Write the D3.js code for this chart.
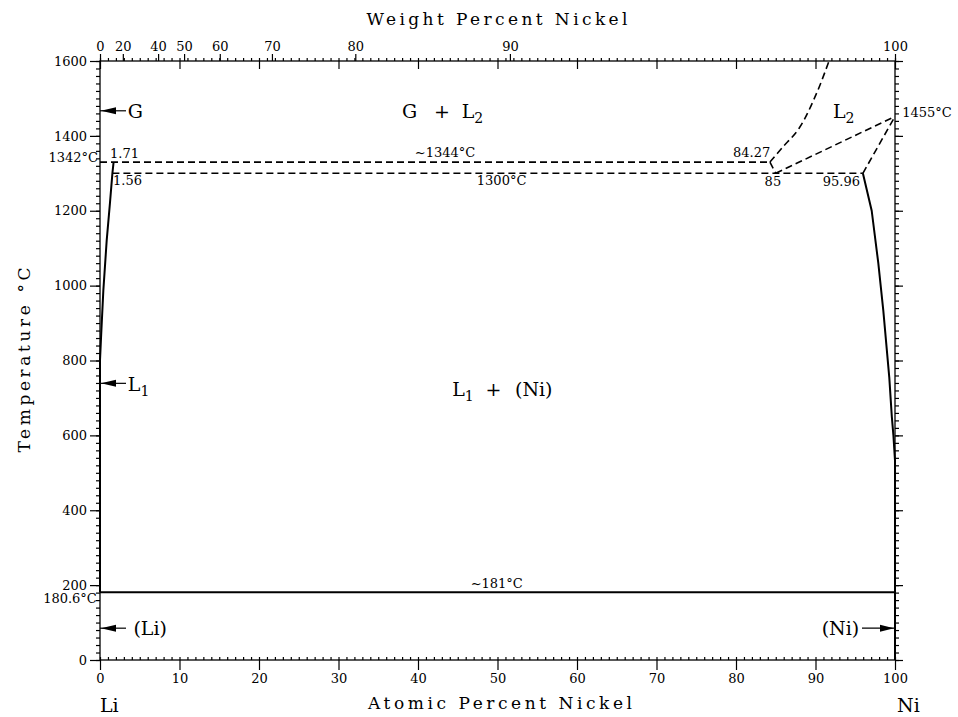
<!DOCTYPE html>
<html>
<head>
<meta charset="utf-8">
<script src="https://d3js.org/d3.v7.min.js"></script>
<style>
  body { margin: 0; background: #fff; }
  svg { font-family: "DejaVu Serif", serif; }
  .tick text { font-family: "DejaVu Serif", serif; font-size: 13px; fill: #000; }
  .tick line { stroke: #000; stroke-width: 1.2; }
</style>
</head>
<body>
<script>
// Li-Ni phase diagram: atomic % Ni on x, temperature in degC on y

var atTicks = d3.range(0, 101, 10);
var tempTicks = d3.range(0, 1601, 200);
var wtTicks = [0, 20, 40, 50, 60, 70, 80, 90, 100];

// solid boundaries [at% Ni, degC]
var leftLiquidus = [[1.71, 1330], [1.56, 1300], [1.25, 1220], [0.84, 1120], [0.42, 987], [0.13, 861], [0, 800], [0, 181]];
var rightLiquidus = [[95.96, 1300], [97.07, 1200], [97.9, 1060], [98.53, 933], [99.28, 755], [99.6, 650], [99.8, 600], [100, 533], [100, 0]];
var eutecticLine = [[0, 181], [100, 181]];

// dashed (uncertain) boundaries
var monotecticLine = [[0, 1330], [84.27, 1330]];
var peritecticLine = [[1.56, 1300], [95.96, 1300]];
var monoJoin = [[84.27, 1330], [85, 1300]];
var liquidusL2a = [[85, 1300], [100, 1452]];
var liquidusL2b = [[95.96, 1300], [100, 1452]];
var gasL2 = [[84.27, 1330], [85.8, 1368], [87.96, 1421], [90.1, 1512], [91.7, 1600]];

// small value labels: [text, at%, degC, anchor]
var valueLabels = [
  ["1.71", 1.26, 1341, "start"],
  ["1.56", 1.64, 1269, "start"],
  ["~1344°C", 39.6, 1343, "start"],
  ["1300°C", 47.4, 1269, "start"],
  ["84.27", 84.3, 1343, "end"],
  ["85", 83.6, 1266, "start"],
  ["95.96", 95.6, 1266, "end"],
  ["1455°C", 100.9, 1450, "start"],
  ["1342°C", -0.25, 1329, "end"],
  ["180.6°C", -0.4, 152, "end"],
  ["~181°C", 49.9, 192, "middle"]
];

// phase labels: [text, subscript, at%, degC, anchor]
var phaseLabels = [
  ["G", "", 3.5, 1448, "start"],
  ["L", "1", 3.5, 718, "start"],
  ["(Li)", "", 4.2, 67, "start"],
  ["(Ni)", "", 95.5, 67, "end"],
  ["G", "", 38.0, 1448, "start"],
  ["+", "", 42.0, 1448, "start"],
  ["L", "2", 45.5, 1448, "start"],
  ["L", "2", 92.2, 1448, "start"],
  ["L", "1", 44.3, 705, "start"],
  ["+", "", 48.5, 705, "start"],
  ["(Ni)", "", 52.2, 705, "start"]
];

// arrows to the pure-element axes: [degC, side]
var arrows = [[1467, "left"], [739, "left"], [85, "left"], [85, "right"]];

function wtToAt(w) {
  var a = w / 58.69, b = (100 - w) / 6.941;
  return 100 * a / (a + b);
}

var W = 958, H = 717;
var svg = d3.select("body").append("svg").attr("width", W).attr("height", H);

var x = d3.scaleLinear().domain([0, 100]).range([100, 895]);
var y = d3.scaleLinear().domain([0, 1600]).range([660, 61]);

// axes
function clean(g) { g.select(".domain").remove(); }

svg.append("g").attr("transform", "translate(0,660)")
  .call(d3.axisBottom(x).tickValues(atTicks).tickSize(10).tickPadding(4).tickFormat(d3.format("d"))).call(clean);
svg.append("g").attr("transform", "translate(0,660)")
  .call(d3.axisBottom(x).tickValues(d3.range(0, 101, 1)).tickSize(-3).tickFormat("")).call(clean);

svg.append("g").attr("transform", "translate(100,0)")
  .call(d3.axisLeft(y).tickValues(tempTicks).tickSize(10).tickPadding(3).tickFormat(d3.format("d"))).call(clean);
svg.append("g").attr("transform", "translate(100,0)")
  .call(d3.axisLeft(y).tickValues(d3.range(0, 1601, 20)).tickSize(4).tickFormat("")).call(clean);

svg.append("g").attr("transform", "translate(895,0)")
  .call(d3.axisRight(y).tickValues(tempTicks).tickSize(8).tickFormat("")).call(clean);
svg.append("g").attr("transform", "translate(895,0)")
  .call(d3.axisRight(y).tickValues(d3.range(0, 1601, 20)).tickSize(4).tickFormat("")).call(clean);

svg.append("g").attr("transform", "translate(0,61)")
  .call(d3.axisTop(x).tickValues(wtTicks.map(wtToAt)).tickSize(7).tickPadding(3)
    .tickFormat(function (d, i) { return wtTicks[i]; })).call(clean);
svg.append("g").attr("transform", "translate(0,61)")
  .call(d3.axisTop(x).tickValues(atTicks).tickSize(-8).tickFormat("")).call(clean);
svg.append("g").attr("transform", "translate(0,61)")
  .call(d3.axisTop(x).tickValues(d3.range(0, 101, 1)).tickSize(3).tickFormat("")).call(clean);

svg.append("rect")
  .attr("x", x(0)).attr("y", y(1600))
  .attr("width", x(100) - x(0)).attr("height", y(0) - y(1600))
  .attr("fill", "none").attr("stroke", "#000").attr("stroke-width", 1.3);

// axis titles
svg.append("text").attr("x", 497).attr("y", 25).attr("text-anchor", "middle")
  .attr("font-size", 17).attr("textLength", 261).attr("lengthAdjust", "spacing")
  .text("Weight Percent Nickel");
svg.append("text").attr("x", 500).attr("y", 709).attr("text-anchor", "middle")
  .attr("font-size", 17).attr("textLength", 264).attr("lengthAdjust", "spacing")
  .text("Atomic Percent Nickel");
svg.append("text").attr("transform", "translate(30,360) rotate(-90)").attr("text-anchor", "middle")
  .attr("font-size", 17).attr("textLength", 185).attr("lengthAdjust", "spacing")
  .text("Temperature °C");
svg.append("text").attr("x", x(0)).attr("y", 712).attr("font-size", 19).text("Li");
svg.append("text").attr("x", x(100) + 2).attr("y", 712).attr("font-size", 19).text("Ni");

// phase boundaries
var line = d3.line().x(function (d) { return x(d[0]); }).y(function (d) { return y(d[1]); });
var smooth = d3.line().x(function (d) { return x(d[0]); }).y(function (d) { return y(d[1]); })
  .curve(d3.curveCatmullRom);

[leftLiquidus, rightLiquidus, eutecticLine].forEach(function (d) {
  svg.append("path").attr("d", line(d))
    .attr("fill", "none").attr("stroke", "#000").attr("stroke-width", 2)
    .attr("stroke-linejoin", "round");
});

[monotecticLine, peritecticLine, monoJoin, liquidusL2a, liquidusL2b].forEach(function (d) {
  svg.append("path").attr("d", line(d))
    .attr("fill", "none").attr("stroke", "#000").attr("stroke-width", 1.6)
    .attr("stroke-dasharray", "7,4");
});
svg.append("path").attr("d", smooth(gasL2))
  .attr("fill", "none").attr("stroke", "#000").attr("stroke-width", 1.6)
  .attr("stroke-dasharray", "7,4");

// arrows
arrows.forEach(function (a) {
  var yy = y(a[0]);
  var g = svg.append("g");
  if (a[1] === "left") {
    var x0 = x(0);
    g.append("line").attr("x1", x0).attr("x2", x0 + 26).attr("y1", yy).attr("y2", yy)
      .attr("stroke", "#000").attr("stroke-width", 1.2);
    g.append("path").attr("d", "M" + (x0 + 1) + "," + yy + "L" + (x0 + 16) + "," + (yy - 3.5) +
      "L" + (x0 + 16) + "," + (yy + 3.5) + "Z").attr("fill", "#000");
  } else {
    var x1 = x(100);
    g.append("line").attr("x1", x1 - 33).attr("x2", x1).attr("y1", yy).attr("y2", yy)
      .attr("stroke", "#000").attr("stroke-width", 1.2);
    g.append("path").attr("d", "M" + (x1 - 1) + "," + yy + "L" + (x1 - 15) + "," + (yy - 3.5) +
      "L" + (x1 - 15) + "," + (yy + 3.5) + "Z").attr("fill", "#000");
  }
});

// labels
valueLabels.forEach(function (d) {
  svg.append("text").attr("x", x(d[1])).attr("y", y(d[2]))
    .attr("text-anchor", d[3]).attr("font-size", 13).text(d[0]);
});

phaseLabels.forEach(function (d) {
  var t = svg.append("text").attr("x", x(d[2])).attr("y", y(d[3]))
    .attr("text-anchor", d[4]).attr("font-size", 19);
  t.append("tspan").text(d[0]);
  if (d[1]) t.append("tspan").attr("dy", 5).attr("font-size", 14).text(d[1]);
});
</script>
</body>
</html>
